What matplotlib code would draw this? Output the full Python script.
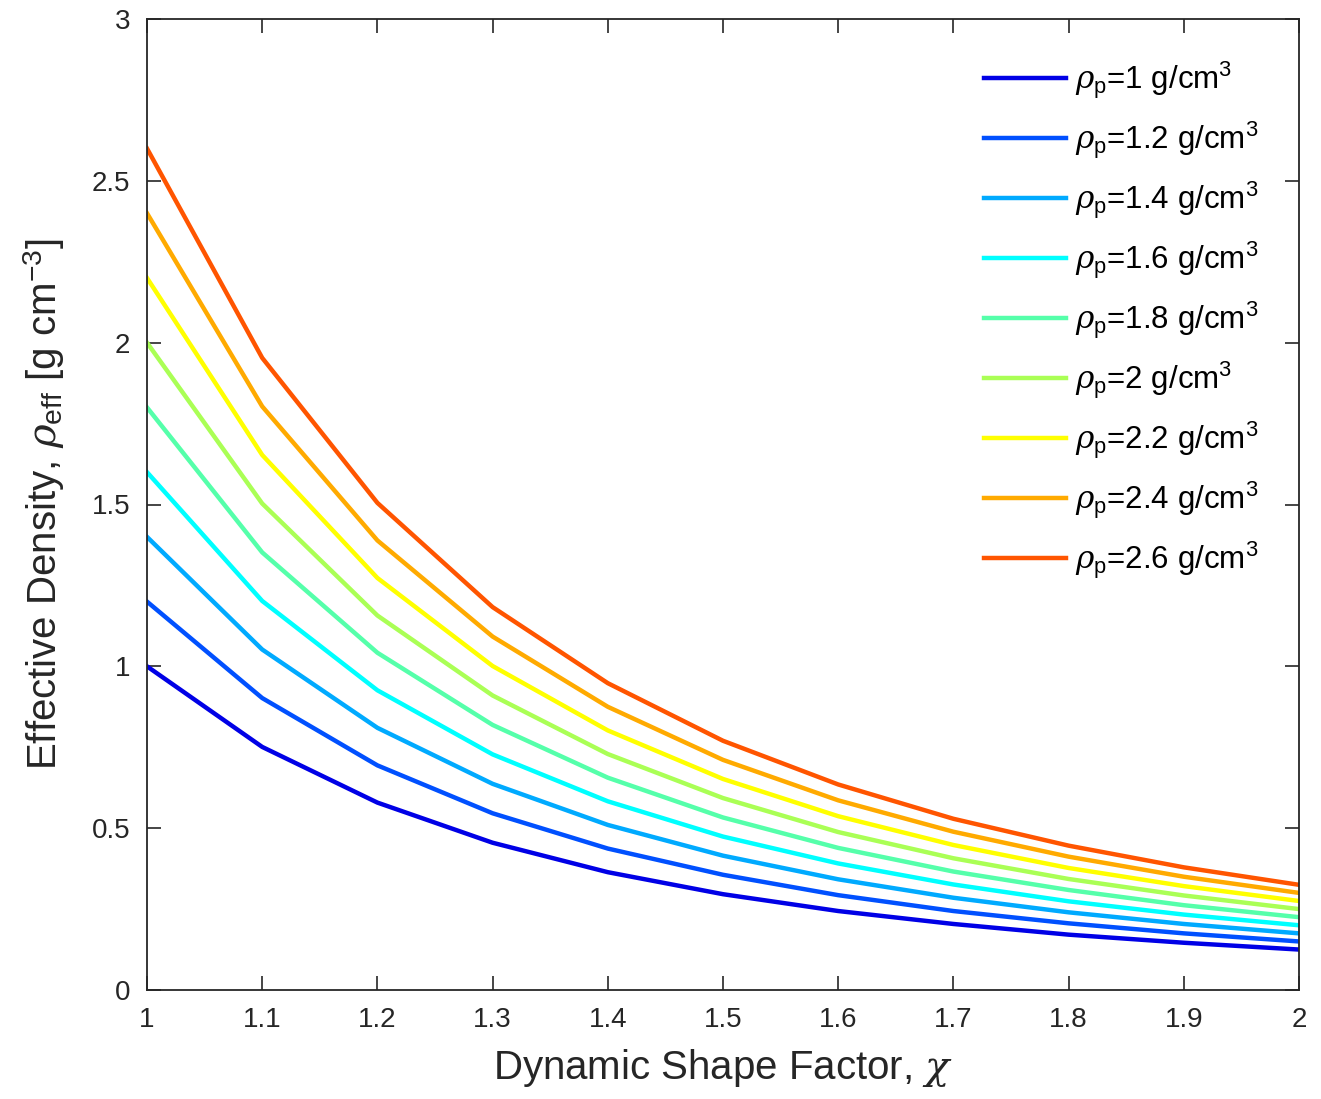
import matplotlib

matplotlib.use("Agg")
import matplotlib.pyplot as plt

plt.rcParams["font.family"] = ["Liberation Sans", "DejaVu Sans"]
plt.rcParams["mathtext.fontset"] = "custom"
plt.rcParams["mathtext.rm"] = "Liberation Sans"
plt.rcParams["mathtext.it"] = "DejaVu Serif:italic"

# Форм-фактор (ось X)
chi = [1.0, 1.1, 1.2, 1.3, 1.4, 1.5, 1.6, 1.7, 1.8, 1.9, 2.0]

rho_p = ["1", "1.2", "1.4", "1.6", "1.8", "2", "2.2", "2.4", "2.6"]

# Значения
rho_1_0 = [1.000, 0.751, 0.579, 0.455, 0.364, 0.296, 0.244, 0.204, 0.171, 0.146, 0.125]
rho_1_2 = [1.200, 0.902, 0.694, 0.546, 0.437, 0.356, 0.293, 0.244, 0.206, 0.175, 0.150]
rho_1_4 = [1.400, 1.052, 0.810, 0.637, 0.510, 0.415, 0.342, 0.285, 0.240, 0.204, 0.175]
rho_1_6 = [1.600, 1.202, 0.926, 0.728, 0.583, 0.474, 0.391, 0.326, 0.274, 0.233, 0.200]
rho_1_8 = [1.800, 1.352, 1.042, 0.819, 0.656, 0.533, 0.439, 0.366, 0.309, 0.262, 0.225]
rho_2_0 = [2.000, 1.503, 1.157, 0.910, 0.729, 0.593, 0.488, 0.407, 0.343, 0.292, 0.250]
rho_2_2 = [2.200, 1.653, 1.273, 1.001, 0.802, 0.652, 0.537, 0.448, 0.377, 0.321, 0.275]
rho_2_4 = [2.400, 1.803, 1.389, 1.092, 0.875, 0.711, 0.586, 0.489, 0.412, 0.350, 0.300]
rho_2_6 = [2.600, 1.953, 1.505, 1.183, 0.948, 0.770, 0.635, 0.529, 0.446, 0.379, 0.325]

series = [rho_1_0, rho_1_2, rho_1_4, rho_1_6, rho_1_8, rho_2_0, rho_2_2, rho_2_4, rho_2_6]

colors = ["#0000e6", "#0050ff", "#00aaff", "#00ffff", "#55ffaa",
          "#aaff55", "#ffff00", "#ffaa00", "#ff5500"]

fig = plt.figure(figsize=(13.21, 10.99), dpi=100)
ax = fig.add_axes([147 / 1321, 1 - 990 / 1099, (1299 - 147) / 1321, (990 - 19) / 1099])

for vals, rp, c in zip(series, rho_p, colors):
    ax.plot(chi, vals, color=c, lw=3.2, label=r"$\rho_{\mathrm{p}}$=" + rp + r" g/cm$^{3}$")

ax.set_xlim(1, 2)
ax.set_ylim(0, 3)
ax.set_xticks(chi)
ax.set_xticklabels(["1", "1.1", "1.2", "1.3", "1.4", "1.5", "1.6", "1.7", "1.8", "1.9", "2"])
ax.set_yticks([0, 0.5, 1, 1.5, 2, 2.5, 3])
ax.set_yticklabels(["0", "0.5", "1", "1.5", "2", "2.5", "3"])
ax.tick_params(direction="in", length=10, width=1.2, labelsize=20, colors="#262626",
               top=True, right=True, pad=12)
for sp in ax.spines.values():
    sp.set_linewidth(1.3)
    sp.set_color("#262626")

ax.set_xlabel(r"Dynamic Shape Factor, $\chi$", fontsize=29, color="#262626", labelpad=10)
ax.set_ylabel(r"Effective Density, $\rho_{\mathrm{eff}}$ [g cm$^{\mathrm{-3}}$]", fontsize=29,
              color="#262626", labelpad=18)

ax.legend(loc="upper right", bbox_to_anchor=(1.0, 1.0), frameon=False, fontsize=22.5,
          handlelength=2.6, labelspacing=0.59, handletextpad=0.3, borderaxespad=0.9)

fig.savefig("out.png", dpi=100)
